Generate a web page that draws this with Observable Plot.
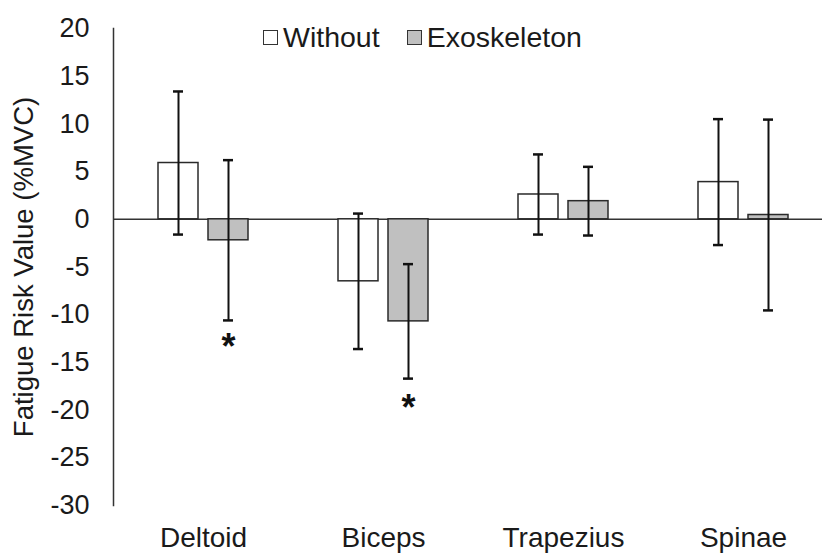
<!DOCTYPE html>
<html>
<head>
<meta charset="utf-8">
<script src="https://cdn.jsdelivr.net/npm/d3@7"></script>
<script src="https://cdn.jsdelivr.net/npm/@observablehq/plot@0.6"></script>
<style>
  html, body { margin: 0; padding: 0; background: #fff; }
  #wrap { position: relative; width: 822px; height: 553px; font-family: "Liberation Sans", Arial, sans-serif; color: #1a1a1a; }
  #legend { position: absolute; left: 263px; top: 21px; display: flex; align-items: center; font-size: 28.5px; }
  #legend .item { display: flex; align-items: center; margin-right: 27px; }
  #legend .sw { width: 15px; height: 15px; border: 1.5px solid #333; margin-right: 5px; box-sizing: border-box; }
</style>
</head>
<body>
<div id="wrap"><div id="legend"></div></div>
<script>
const muscles = ["Deltoid", "Biceps", "Trapezius", "Spinae"];
const conditions = ["Without", "Exoskeleton"];
const conditionColors = ["#ffffff", "#c0c0c0"];
const withoutMean = [5.9, -6.5, 2.6, 3.9];
const withoutSD = [7.5, 7.1, 4.2, 6.6];
const exoMean = [-2.2, -10.7, 1.9, 0.45];
const exoSD = [8.4, 6.0, 3.6, 10.0];
const sigMuscles = ["Deltoid", "Biceps"];
const sigCondition = ["Exoskeleton", "Exoskeleton"];
const sigY = [-12.8, -19.2];
const yTicks = [20, 15, 10, 5, 0, -5, -10, -15, -20, -25, -30];

const data = [];
muscles.forEach((m, i) => {
  data.push({muscle: m, cond: "Without", mean: withoutMean[i], sd: withoutSD[i]});
  data.push({muscle: m, cond: "Exoskeleton", mean: exoMean[i], sd: exoSD[i]});
});
const sig = sigMuscles.map((m, i) => ({muscle: m, cond: sigCondition[i], y: sigY[i]}));

const chart = Plot.plot({
  width: 822,
  height: 553,
  marginLeft: 112,
  marginRight: -11,
  marginTop: 28,
  marginBottom: 48,
  style: {fontFamily: "Liberation Sans, Arial, sans-serif", color: "#1a1a1a", background: "transparent"},
  fx: {domain: muscles, padding: 0, label: null},
  x: {domain: conditions, paddingInner: 0.196, paddingOuter: 0.863, axis: null},
  y: {domain: [-30, 20], ticks: yTicks, label: null},
  color: {domain: conditions, range: conditionColors},
  marks: [
    Plot.ruleY([0], {stroke: "#333", strokeWidth: 1.5}),
    Plot.barY(data, {fx: "muscle", x: "cond", y: "mean", fill: "cond", stroke: "#2a2a2a", strokeWidth: 1.5}),
    Plot.ruleX(data, {fx: "muscle", x: "cond", y1: d => d.mean - d.sd, y2: d => d.mean + d.sd, stroke: "#111", strokeWidth: 2}),
    Plot.tickY(data, {fx: "muscle", x: "cond", y: d => d.mean + d.sd, stroke: "#111", strokeWidth: 2.5, insetLeft: 15, insetRight: 15}),
    Plot.tickY(data, {fx: "muscle", x: "cond", y: d => d.mean - d.sd, stroke: "#111", strokeWidth: 2.5, insetLeft: 15, insetRight: 15}),
    Plot.text(sig, {fx: "muscle", x: "cond", y: "y", text: () => "*", fontSize: 36, fontWeight: "bold", fill: "#111", dy: 6}),
    Plot.frame({anchor: "left", facetAnchor: "left", stroke: "#333", strokeWidth: 1.5}),
    Plot.axisY({ticks: yTicks, tickSize: 0, tickPadding: 24, fontSize: 27, tickFormat: d => d < 0 ? "-" + Math.abs(d) : String(d), label: null}),
    Plot.axisY({ticks: [], tickSize: 0, fontSize: 27.5, label: "Fatigue Risk Value (%MVC)", labelAnchor: "center", labelArrow: "none", labelOffset: 100}),
    Plot.axisFx({anchor: "bottom", tickSize: 0, tickPadding: 22, fontSize: 28, label: null})
  ]
});
document.getElementById("wrap").prepend(chart);

const legend = document.getElementById("legend");
conditions.forEach((c, i) => {
  const item = document.createElement("div");
  item.className = "item";
  const sw = document.createElement("span");
  sw.className = "sw";
  sw.style.background = conditionColors[i];
  const t = document.createElement("span");
  t.textContent = c;
  item.append(sw, t);
  legend.append(item);
});
</script>
</body>
</html>
